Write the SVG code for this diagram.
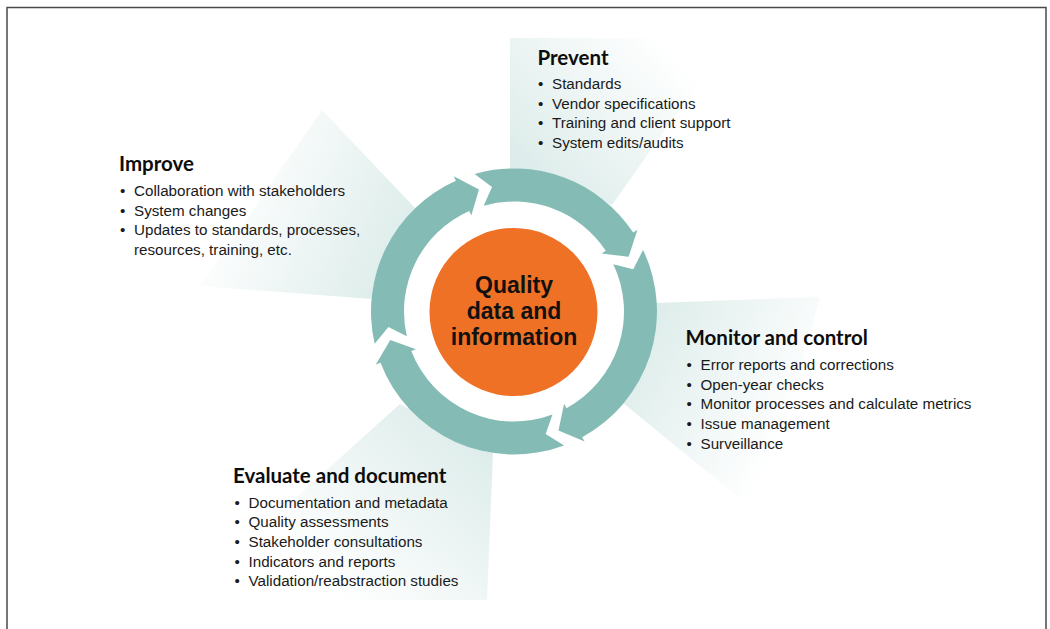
<svg xmlns="http://www.w3.org/2000/svg" width="1050" height="629" viewBox="0 0 1050 629">
<style>
.frame{fill:none;stroke:#4a4a4a;stroke-width:1.5}
.ring{fill:#84bcb5}
.hd{font-family:Lato,"Open Sans",sans-serif;font-weight:700;font-size:20.5px;fill:#0d0d0d}
.bd{font-family:"Liberation Sans",Arial,sans-serif;font-size:15.2px;fill:#1a1a1a}
.ctr{font-family:"Liberation Sans",Arial,sans-serif;font-weight:700;font-size:23px;fill:#111;text-anchor:middle}
</style>
<defs>
<linearGradient id="gTop" gradientUnits="userSpaceOnUse" x1="530" y1="180" x2="670" y2="50">
<stop offset="0" stop-color="#dcecea"/><stop offset="1" stop-color="#ffffff"/></linearGradient>
<linearGradient id="gLeft" gradientUnits="userSpaceOnUse" x1="410" y1="250" x2="230" y2="170">
<stop offset="0" stop-color="#dcecea"/><stop offset="1" stop-color="#ffffff"/></linearGradient>
<linearGradient id="gRight" gradientUnits="userSpaceOnUse" x1="630" y1="340" x2="790" y2="430">
<stop offset="0" stop-color="#dcecea"/><stop offset="1" stop-color="#ffffff"/></linearGradient>
<linearGradient id="gBot" gradientUnits="userSpaceOnUse" x1="480" y1="430" x2="330" y2="590">
<stop offset="0" stop-color="#dcecea"/><stop offset="1" stop-color="#ffffff"/></linearGradient>
</defs>
<rect width="1050" height="629" fill="#ffffff"/>
<path class="frame" d="M7,629 V7.5 H1046 V629"/>
<g id="rays">
<polygon points="510,38 730,38 612,205 510,172" fill="url(#gTop)"/>
<polygon points="322,110 415,208 372,299 200,286" fill="url(#gLeft)"/>
<polygon points="656,303 820,297 760,515 623,403" fill="url(#gRight)"/>
<polygon points="400,404 493,453 487,600 290,600 290,503" fill="url(#gBot)"/>
<circle cx="514" cy="311.5" r="143" fill="#ffffff"/>
</g>
<g id="connectors">
<path class="ring" d="M474.58,174.04 A143,143 0 0 1 633.25,232.57 L637.42,229.81 L628.63,256.83 L601.56,253.55 L605.73,250.79 A110,110 0 0 0 483.68,205.76 L492.03,186.92 Z"/>
<path class="ring" d="M643.07,249.94 A143,143 0 0 1 582.23,437.17 L584.62,441.57 L558.48,430.46 L564.10,403.78 L566.49,408.17 A110,110 0 0 0 613.28,264.14 L633.24,269.27 Z"/>
<path class="ring" d="M564.08,445.44 A143,143 0 0 1 380.50,362.75 L375.83,364.54 L390.25,340.07 L415.97,349.13 L411.31,350.92 A110,110 0 0 0 552.52,414.53 L545.67,433.97 Z"/>
<path class="ring" d="M374.67,343.67 A143,143 0 0 1 455.84,180.86 L453.80,176.29 L478.99,189.42 L471.29,215.58 L469.26,211.01 A110,110 0 0 0 406.82,336.24 L388.44,326.92 Z"/>
</g>
<g id="center">
<circle cx="513.5" cy="312" r="84" fill="#ef7125"/>
<text class="ctr"><tspan x="514" y="293">Quality</tspan><tspan x="514" y="319">data and</tspan><tspan x="514" y="345">information</tspan></text>
</g>
<g id="prevent">
<text class="hd" x="537.5" y="65">Prevent</text>
<text class="bd"><tspan x="538" y="89">•</tspan><tspan x="552" y="89">Standards</tspan><tspan x="538" y="108.7">•</tspan><tspan x="552" y="108.7">Vendor specifications</tspan><tspan x="538" y="128.4">•</tspan><tspan x="552" y="128.4">Training and client support</tspan><tspan x="538" y="148">•</tspan><tspan x="552" y="148">System edits/audits</tspan></text>
</g>
<g id="improve">
<text class="hd" x="119" y="171">Improve</text>
<text class="bd"><tspan x="120" y="196">•</tspan><tspan x="134" y="196">Collaboration with stakeholders</tspan><tspan x="120" y="215.5">•</tspan><tspan x="134" y="215.5">System changes</tspan><tspan x="120" y="235">•</tspan><tspan x="134" y="235">Updates to standards, processes,</tspan><tspan x="134" y="255">resources, training, etc.</tspan></text>
</g>
<g id="monitor">
<text class="hd" x="685.5" y="345">Monitor and control</text>
<text class="bd"><tspan x="686.5" y="370">•</tspan><tspan x="700.5" y="370">Error reports and corrections</tspan><tspan x="686.5" y="389.5">•</tspan><tspan x="700.5" y="389.5">Open-year checks</tspan><tspan x="686.5" y="409.2">•</tspan><tspan x="700.5" y="409.2">Monitor processes and calculate metrics</tspan><tspan x="686.5" y="429">•</tspan><tspan x="700.5" y="429">Issue management</tspan><tspan x="686.5" y="448.5">•</tspan><tspan x="700.5" y="448.5">Surveillance</tspan></text>
</g>
<g id="evaluate">
<text class="hd" x="233" y="482.5">Evaluate and document</text>
<text class="bd"><tspan x="234.5" y="507.5">•</tspan><tspan x="248.5" y="507.5">Documentation and metadata</tspan><tspan x="234.5" y="527.2">•</tspan><tspan x="248.5" y="527.2">Quality assessments</tspan><tspan x="234.5" y="546.8">•</tspan><tspan x="248.5" y="546.8">Stakeholder consultations</tspan><tspan x="234.5" y="566.5">•</tspan><tspan x="248.5" y="566.5">Indicators and reports</tspan><tspan x="234.5" y="586">•</tspan><tspan x="248.5" y="586">Validation/reabstraction studies</tspan></text>
</g>
</svg>
